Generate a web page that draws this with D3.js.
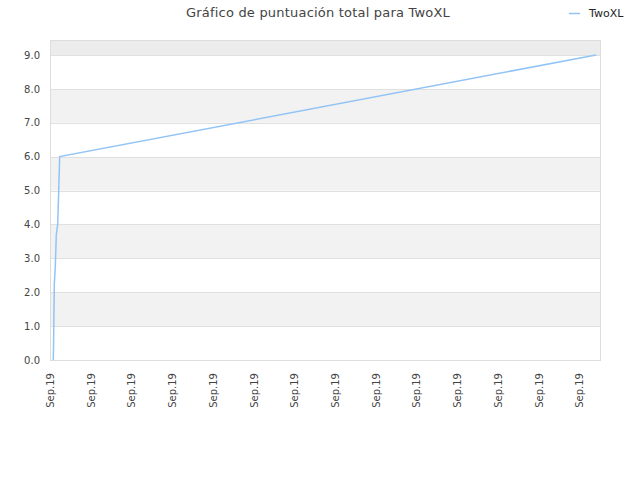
<!DOCTYPE html>
<html>
<head>
<meta charset="utf-8">
<title>Gráfico de puntuación total para TwoXL</title>
<script src="https://d3js.org/d3.v7.min.js"></script>
<style>
  body { margin: 0; background: #fff; font-family: "DejaVu Sans", sans-serif; }
</style>
</head>
<body>
<div id="chart"></div>
<script>
// x = days since first tick, y = total score
var days = [0.081, 0.088, 0.106, 0.130, 0.155, 0.189, 0.214, 0.238, 13.415];
var scores = [0.0, 0.5, 2.25, 2.75, 3.7, 4.0, 5.0, 6.0, 9.0];
var tickDays = [0, 1, 2, 3, 4, 5, 6, 7, 8, 9, 10, 11, 12, 13];
var tickLabels = ["Sep.19", "Sep.19", "Sep.19", "Sep.19", "Sep.19", "Sep.19", "Sep.19",
                  "Sep.19", "Sep.19", "Sep.19", "Sep.19", "Sep.19", "Sep.19", "Sep.19"];
var yTicks = [0, 1, 2, 3, 4, 5, 6, 7, 8, 9];
var seriesName = "TwoXL";

var W = 640, H = 480;
var mLeft = 50, mRight = 600, mTop = 40, mBottom = 360;

var svg = d3.select("#chart").append("svg")
    .attr("width", W).attr("height", H);

var x = d3.scaleLinear().domain([0, 13.51]).range([mLeft, mRight]);
var y = d3.scaleLinear().domain([0, 9.44]).range([mBottom, mTop]);

// alternating bands
var bands = d3.range(0, 10);
svg.selectAll("rect.band")
    .data(bands)
  .enter().append("rect")
    .attr("x", mLeft)
    .attr("y", function (d) { return y(Math.min(d + 1, 9.44)); })
    .attr("width", mRight - mLeft)
    .attr("height", function (d) { return y(d) - y(Math.min(d + 1, 9.44)); })
    .attr("fill", function (d) {
        if (d == 9) return "#ececec";
        return d % 2 == 1 ? "#f2f2f2" : "#ffffff";
    });

// grid lines
svg.selectAll("line.grid")
    .data(yTicks)
  .enter().append("line")
    .attr("x1", mLeft).attr("x2", mRight)
    .attr("y1", function (d) { return Math.round(y(d)) + 0.5; })
    .attr("y2", function (d) { return Math.round(y(d)) + 0.5; })
    .attr("stroke", "#e0e0e0");

// frame
svg.append("rect")
    .attr("x", mLeft + 0.5).attr("y", mTop + 0.5)
    .attr("width", mRight - mLeft).attr("height", mBottom - mTop)
    .attr("fill", "none").attr("stroke", "#dddddd");

// y axis labels
var yAxis = d3.axisLeft(y).tickValues(yTicks).tickSize(0).tickPadding(10)
    .tickFormat(d3.format(".1f"));
var gy = svg.append("g").attr("transform", "translate(" + mLeft + ",0)").call(yAxis);
gy.select(".domain").remove();
gy.selectAll("text").attr("fill", "#444").style("font-size", "10px")
    .style("font-family", "DejaVu Sans, sans-serif");

// x axis labels
var xAxis = d3.axisBottom(x).tickValues(tickDays).tickSize(0)
    .tickFormat(function (d, i) { return tickLabels[i]; });
var gx = svg.append("g").attr("transform", "translate(0," + mBottom + ")").call(xAxis);
gx.select(".domain").remove();
gx.selectAll("text")
    .attr("fill", "#444")
    .style("font-size", "10px")
    .style("font-family", "DejaVu Sans, sans-serif")
    .attr("text-anchor", "end")
    .attr("dy", "0.35em")
    .attr("transform", "translate(0,13) rotate(-90)")
    .attr("x", 0).attr("y", 0);

// line
var pts = days.map(function (d, i) { return [d, scores[i]]; });
var line = d3.line()
    .x(function (d) { return x(d[0]); })
    .y(function (d) { return y(d[1]); });
svg.append("path")
    .datum(pts)
    .attr("d", line)
    .attr("fill", "none")
    .attr("stroke", "#92c4f5")
    .attr("stroke-width", 1.5);

// title
svg.append("text")
    .attr("x", 318).attr("y", 17)
    .attr("text-anchor", "middle")
    .attr("fill", "#444")
    .style("font-size", "13px")
    .style("letter-spacing", "0.2px")
    .style("font-family", "DejaVu Sans, sans-serif")
    .text("Gráfico de puntuación total para " + seriesName);

// legend
svg.append("line")
    .attr("x1", 569).attr("x2", 580).attr("y1", 13.5).attr("y2", 13.5)
    .attr("stroke", "#92c4f5").attr("stroke-width", 1.5);
svg.append("text")
    .attr("x", 589).attr("y", 17)
    .attr("fill", "#222")
    .style("font-size", "11px")
    .style("font-family", "DejaVu Sans, sans-serif")
    .text(seriesName);
</script>
</body>
</html>
